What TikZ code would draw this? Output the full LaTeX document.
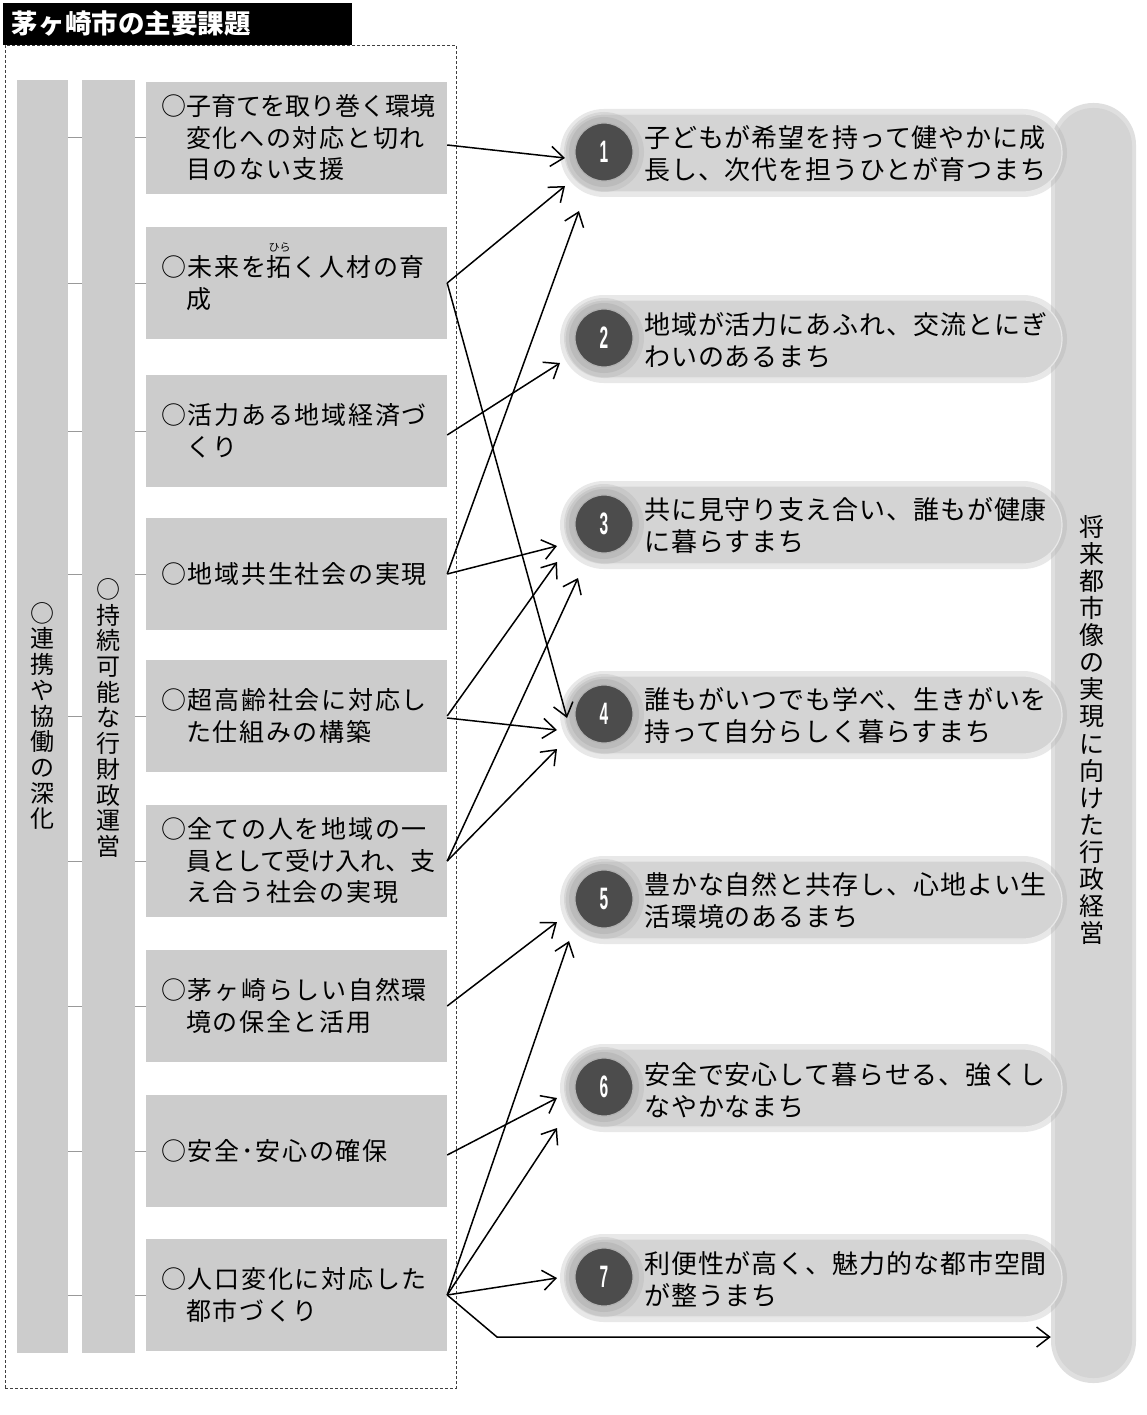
\documentclass[tikz,border=0pt]{standalone}
\usepackage{fontspec}
\setmainfont{Noto Sans CJK JP}
\newfontfamily\boxfont[LetterSpace=7]{Noto Sans CJK JP}
\newfontfamily\pillfont[LetterSpace=3.5]{Noto Sans CJK JP}
\newfontfamily\numfont{Liberation Sans}
\usetikzlibrary{arrows.meta,calc}
\newcommand\myruby[2]{\leavevmode\rlap{\smash{\raisebox{25pt}{\makebox[1.07em]{\rmfamily\fontsize{11}{11}\selectfont #2}}}}#1}
\newcommand\ci{\hphantom{○}}
\tikzset{
  frame/.style={draw=black!75, densely dashed, line width=0.7pt, minimum width=451pt, minimum height=1343pt, inner sep=0},
  titlebox/.style={fill=black, text=white, inner xsep=9pt, inner ysep=0pt, text width=331pt, minimum height=42pt, align=left, font=\fontsize{26.5}{26.5}\selectfont\bfseries},
  colbox/.style={fill=gray!40, minimum height=1273pt, inner sep=0},
  tbox/.style={fill=gray!40, minimum width=301pt, minimum height=112pt, inner sep=0},
  btext/.style={anchor=west, align=left, inner sep=0, font=\boxfont\fontsize{25}{31.5}\selectfont},
  vtext/.style={align=center, inner sep=0, font=\fontsize{24}{25.7}\selectfont},
  tick/.style={draw=gray!80, line width=1pt},
  pill/.style={rounded corners=39pt, minimum width=497pt, minimum height=78pt, fill=gray!34, draw=gray!18, line width=1.2pt, inner sep=0},
  pillglow/.style={rounded corners=44pt, minimum width=507pt, minimum height=88pt, fill=gray!70, opacity=.25, inner sep=0},
  ptext/.style={anchor=west, align=left, inner sep=0, font=\pillfont\fontsize{26}{32}\selectfont},
  circ/.style={circle, minimum size=58pt, fill=black!70, draw=gray!60, line width=1.2pt, text=white, inner sep=0, font=\numfont\bfseries\fontsize{31}{31}\selectfont},
  cglowa/.style={circle, minimum size=80pt, fill=gray!70, opacity=.25, inner sep=0},
  cglowb/.style={circle, minimum size=70pt, fill=gray!70, opacity=.38, inner sep=0},
  bar/.style={rounded corners=38pt, minimum width=77pt, minimum height=1270pt, fill=gray!34, inner sep=0},
  barglow/.style={rounded corners=42pt, minimum width=85pt, minimum height=1280pt, fill=gray!70, opacity=.35, inner sep=0},
  arr/.style={draw=black, line width=1.5pt, -{Straight Barb[length=13pt,width=20pt,line width=1.5pt]}}
}
\begin{document}
\begin{tikzpicture}[x=1pt,y=-1pt]
\useasboundingbox (0,0) rectangle (1146,1415);
\fill[white] (0,0) rectangle (1146,1415);

% frame and title
\node[frame] (frame) at (230.5,716.5) {};
\node[titlebox] (title) at (177.5,24) {茅ヶ崎市の主要課題};

% columns
\node[colbox, minimum width=51pt] (col1) at (42.5,716.5) {};
\node[colbox, minimum width=53pt] (col2) at (108.5,716.5) {};
\node[vtext] (c1t) at (42.5,716) {○\\連\\携\\や\\協\\働\\の\\深\\化};
\node[vtext] (c2t) at (108.5,718) {○\\持\\続\\可\\能\\な\\行\\財\\政\\運\\営};

% boxes
\node[tbox] (b1) at (296.5,138) {};
\node[tbox] (b2) at (296.5,283) {};
\node[tbox] (b3) at (296.5,431) {};
\node[tbox] (b4) at (296.5,574) {};
\node[tbox] (b5) at (296.5,716) {};
\node[tbox] (b6) at (296.5,861) {};
\node[tbox] (b7) at (296.5,1006) {};
\node[tbox] (b8) at (296.5,1151) {};
\node[tbox] (b9) at (296.5,1295) {};

\node[btext] (bt1) at ([xshift=15pt]b1.west) {{\rmfamily ○子育てを取り巻く環境}\\\ci 変化への対応と切れ\\\ci 目のない支援};
\node[btext] (bt2) at ([xshift=15pt]b2.west) {○未来を\myruby{拓}{ひら}く人材の育\\\ci 成};
\node[btext] (bt3) at ([xshift=15pt]b3.west) {○活力ある地域経済づ\\\ci くり};
\node[btext] (bt4) at ([xshift=15pt]b4.west) {○地域共生社会の実現};
\node[btext] (bt5) at ([xshift=15pt]b5.west) {○超高齢社会に対応し\\\ci た仕組みの構築};
\node[btext] (bt6) at ([xshift=15pt]b6.west) {○全ての人を地域の一\\{\rmfamily\ci 員として受け入れ、支}\\\ci え合う社会の実現};
\node[btext] (bt7) at ([xshift=15pt]b7.west) {○茅ヶ崎らしい自然環\\\ci 境の保全と活用};
\node[btext] (bt8) at ([xshift=15pt]b8.west) {○安全･安心の確保};
\node[btext] (bt9) at ([xshift=15pt]b9.west) {○人口変化に対応した\\\ci 都市づくり};

% ticks
\foreach \b in {b1,b2,b3,b4,b5,b6,b7,b8,b9}{
  \draw[tick] (col1.east |- \b.west) -- (col2.west |- \b.west);
  \draw[tick] (col2.east |- \b.west) -- (\b.west);
}

% right bar
\node[barglow] (barg) at (1093.5,743) {};
\node[bar] (bar) at (1093.5,743) {};
\node[align=center, inner sep=0, font=\fontsize{25}{27.1}\selectfont] (bart) at (1092,730) {将\\来\\都\\市\\像\\の\\実\\現\\に\\向\\け\\た\\行\\政\\経\\営};

% pills
\foreach \i/\y in {1/153,2/339,3/525,4/715,5/900,6/1088,7/1278}{
  \node[pillglow] (pg\i) at (813.5,\y) {};
  \node[pill] (p\i) at (813.5,\y) {};
  \node[cglowa] (cga\i) at (604,\y-1) {};
  \node[cglowb] (cgb\i) at (604,\y-1) {};
  \node[circ] (c\i) at (604,\y-1) {\scalebox{0.5}[1]{\i}};
}
\node[ptext] (pt1) at (644,154) {子どもが希望を持って健やかに成\\長し、次代を担うひとが育つまち};
\node[ptext] (pt2) at (644,340) {地域が活力にあふれ、交流とにぎ\\わいのあるまち};
\node[ptext] (pt3) at (644,526) {共に見守り支え合い、誰もが健康\\に暮らすまち};
\node[ptext] (pt4) at (644,716) {誰もがいつでも学べ、生きがいを\\持って自分らしく暮らすまち};
\node[ptext] (pt5) at (644,901) {豊かな自然と共存し、心地よい生\\活環境のあるまち};
\node[ptext] (pt6) at (644,1090) {安全で安心して暮らせる、強くし\\なやかなまち};
\node[ptext] (pt7) at (644,1279) {利便性が高く、魅力的な都市空間\\が整うまち};

% arrow targets
\coordinate (e1) at (565,158);
\coordinate (e2) at (565,186);
\coordinate (e3) at (567,718);
\coordinate (e4) at (560,363);
\coordinate (e5) at (579,211);
\coordinate (e6) at (557,546);
\coordinate (e7) at (557,562);
\coordinate (e8) at (557,730);
\coordinate (e9) at (578,578);
\coordinate (e10) at (557,749);
\coordinate (e11) at (557,922);
\coordinate (e12) at (569,941);
\coordinate (e13) at (557,1098);
\coordinate (e14) at (557,1128);
\coordinate (e15) at (557,1278);
\coordinate (k9) at (497,1337);

% arrows
\draw[arr] ([yshift=-7pt]b1.east) -- (e1);
\draw[arr] (b2.east) -- (e2);
\draw[arr] (b2.east) -- (e3);
\draw[arr] ([yshift=-4pt]b3.east) -- (e4);
\draw[arr] (b4.east) -- (e5);
\draw[arr] (b4.east) -- (e6);
\draw[arr] (b5.east) -- (e7);
\draw[arr] ([yshift=-2pt]b5.east) -- (e8);
\draw[arr] (b6.east) -- (e9);
\draw[arr] (b6.east) -- (e10);
\draw[arr] (b7.east) -- (e11);
\draw[arr] (b9.east) -- (e12);
\draw[arr] ([yshift=-4pt]b8.east) -- (e13);
\draw[arr] (b9.east) -- (e14);
\draw[arr] (b9.east) -- (e15);
\draw[arr] (b9.east) -- (k9) -- ([xshift=-4pt]k9 -| bar.west);
\end{tikzpicture}
\end{document}
